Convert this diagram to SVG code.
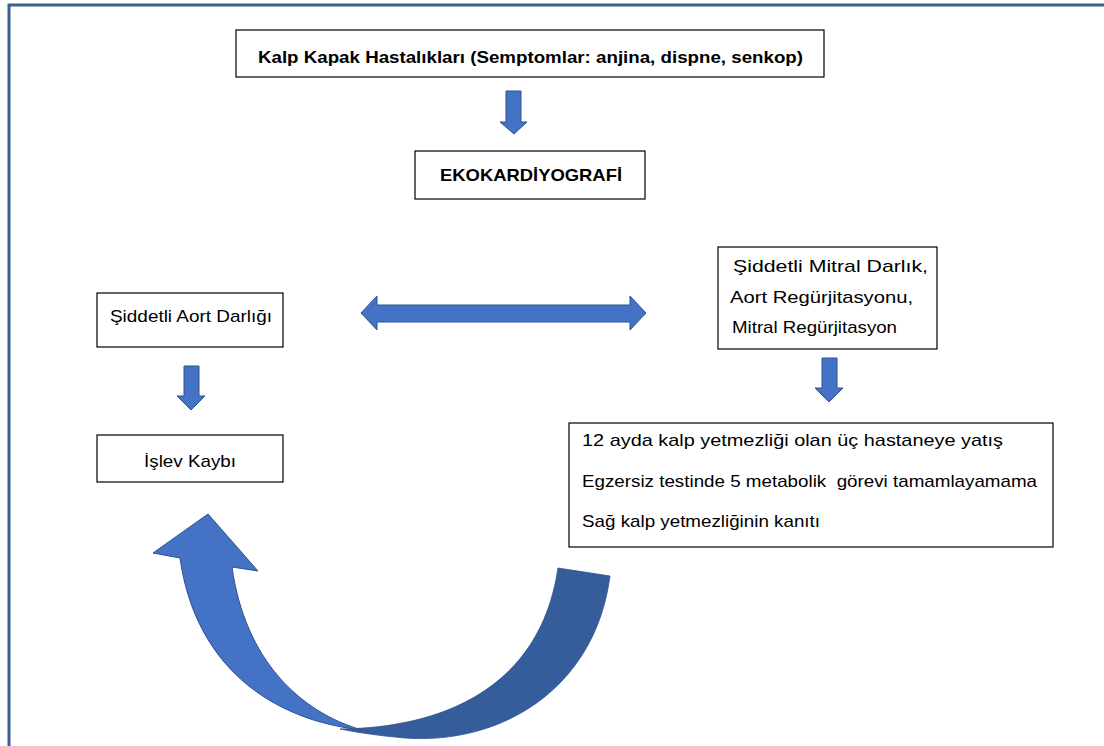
<svg xmlns="http://www.w3.org/2000/svg" width="1104" height="746" viewBox="0 0 1104 746">
<style>
  .box{fill:#fff;stroke:#000;stroke-width:1.2}
  .t{font-family:"Liberation Sans",Arial,sans-serif;font-size:17px;fill:#000}
  .b{font-weight:bold}
  .blk{fill:#4472c4;stroke:#2f528f;stroke-width:1}
  .frame{fill:none;stroke:#3d5f8d;stroke-width:3}
</style>
<path class="frame" d="M9,746 V5 H1104"/>
<g id="connectors">
  <path class="blk" d="M506,91 H521 V122 H527 L514,134 L500,122 H506 Z"/>
  <path class="blk" d="M361,313 L377,296 V305 H630 V296 L646,313 L630,330 V322 H377 V330 Z"/>
  <path class="blk" d="M184,366 H199 V396 H205 L191,410 L177,396 H184 Z"/>
  <path class="blk" d="M822,358 H837 V388 H843 L829,402 L815,388 H822 Z"/>
  <path d="M340,729 C440,728 540,690 558,568 L610,576 C595,690 500,745 405,738 Q370,735 340,729 Z" fill="#355c9b" stroke="#2f528f" stroke-width="0.8"/>
  <path class="blk" d="M208,514 L258,571 L232,567 C245,660 300,712 362,730 C270,720 195,665 180,558 L153,553 Z"/>
</g>
<g id="n1"><rect class="box" x="236" y="30" width="588" height="47"/><text class="t b" x="258" y="63" textLength="545" lengthAdjust="spacingAndGlyphs">Kalp Kapak Hastalıkları (Semptomlar: anjina, dispne, senkop)</text></g>
<g id="n2"><rect class="box" x="415" y="151" width="230" height="48"/><text class="t b" x="440" y="181" textLength="182" lengthAdjust="spacingAndGlyphs">EKOKARDİYOGRAFİ</text></g>
<g id="n3"><rect class="box" x="97" y="293" width="186" height="54"/><text class="t" x="110" y="322" textLength="162" lengthAdjust="spacingAndGlyphs">Şiddetli Aort Darlığı</text></g>
<g id="n4"><rect class="box" x="718" y="247" width="219" height="102"/>
  <text class="t" x="733" y="272" textLength="195" lengthAdjust="spacingAndGlyphs">Şiddetli Mitral Darlık,</text>
  <text class="t" x="730" y="303" textLength="183" lengthAdjust="spacingAndGlyphs">Aort Regürjitasyonu,</text>
  <text class="t" x="732" y="333" textLength="165" lengthAdjust="spacingAndGlyphs">Mitral Regürjitasyon</text></g>
<g id="n5"><rect class="box" x="97" y="435" width="186" height="47"/><text class="t" x="144" y="467" textLength="92" lengthAdjust="spacingAndGlyphs">İşlev Kaybı</text></g>
<g id="n6"><rect class="box" x="569" y="423" width="484" height="124"/>
  <text class="t" x="582" y="446" textLength="421" lengthAdjust="spacingAndGlyphs">12 ayda kalp yetmezliği olan üç hastaneye yatış</text>
  <text class="t" x="582" y="487" xml:space="preserve" textLength="455" lengthAdjust="spacingAndGlyphs">Egzersiz testinde 5 metabolik  görevi tamamlayamama</text>
  <text class="t" x="582" y="527" textLength="238" lengthAdjust="spacingAndGlyphs">Sağ kalp yetmezliğinin kanıtı</text></g>
</svg>
